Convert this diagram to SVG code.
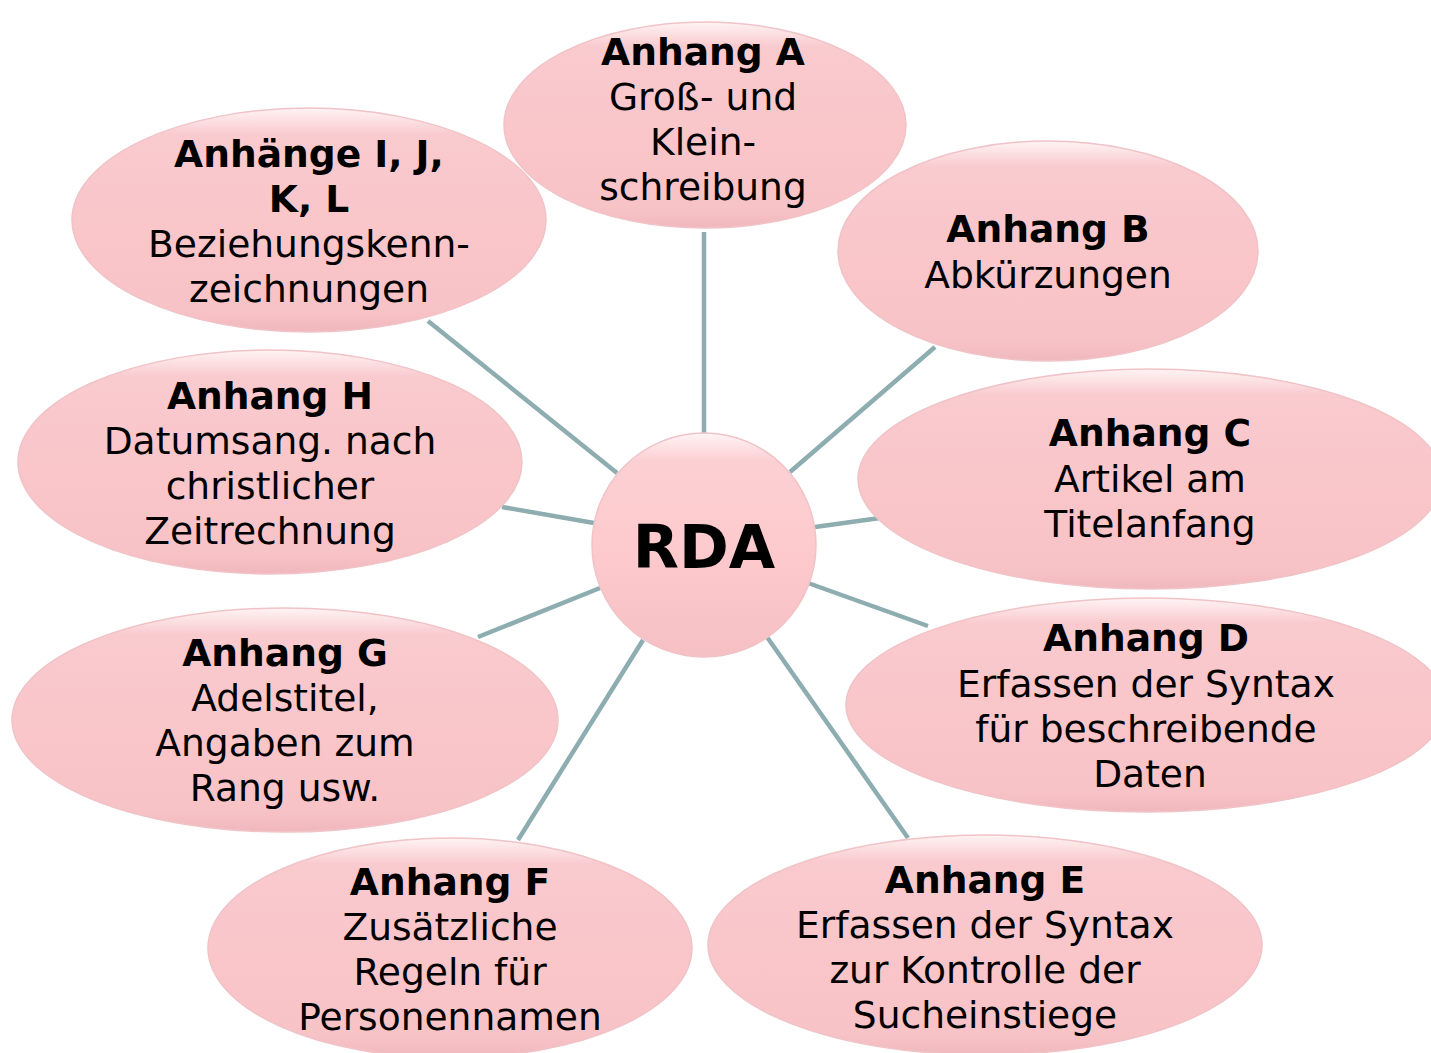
<svg xmlns="http://www.w3.org/2000/svg" width="1431" height="1053" viewBox="0 0 1431 1053">
<defs>
<linearGradient id="pk" x1="0" y1="0" x2="0" y2="1">
<stop offset="0" stop-color="#fff3f4"/>
<stop offset="0.12" stop-color="#f9cace"/>
<stop offset="0.5" stop-color="#f9c6ca"/>
<stop offset="0.9" stop-color="#f8c3c7"/>
<stop offset="1" stop-color="#f0b8bd"/>
</linearGradient>
<linearGradient id="ck" x1="0" y1="0" x2="0" y2="1">
<stop offset="0" stop-color="#fff4f5"/>
<stop offset="0.12" stop-color="#fcd0d3"/>
<stop offset="0.5" stop-color="#fdcacd"/>
<stop offset="1" stop-color="#f6c0c4"/>
</linearGradient>
</defs>
<style>
.n{fill:url(#pk);stroke:#f0c3c7;stroke-width:1.5}
.c{stroke:#8eadb0;stroke-width:4.5;fill:none;stroke-linecap:butt}
text{font-family:"DejaVu Sans","Verdana",sans-serif;font-size:37.6px;fill:#000;text-anchor:middle}
.b{font-weight:bold}
</style>
<rect width="1431" height="1053" fill="#ffffff"/>
<g id="connectors">
<line class="c" x1="704" y1="232" x2="704" y2="433"/>
<line class="c" x1="935" y1="347" x2="790" y2="472"/>
<line class="c" x1="880" y1="518" x2="815" y2="527"/>
<line class="c" x1="928" y1="626" x2="808" y2="583"/>
<line class="c" x1="908" y1="838" x2="767" y2="637"/>
<line class="c" x1="518" y1="840" x2="643" y2="640"/>
<line class="c" x1="478" y1="637" x2="600" y2="588"/>
<line class="c" x1="502" y1="507" x2="594" y2="523"/>
<line class="c" x1="428" y1="321" x2="617" y2="473"/>
</g>
<g id="nodeA">
<ellipse class="n" cx="705" cy="125" rx="201" ry="103"/>
<text x="703" y="65" class="b">Anhang A</text>
<text x="703" y="110">Groß- und</text>
<text x="703" y="155">Klein-</text>
<text x="703" y="200">schreibung</text>
</g>
<g id="nodeB">
<ellipse class="n" cx="1048" cy="251" rx="210" ry="110"/>
<text x="1048" y="242" class="b">Anhang B</text>
<text x="1048" y="288">Abkürzungen</text>
</g>
<g id="nodeC">
<ellipse class="n" cx="1150" cy="479" rx="292" ry="110"/>
<text x="1150" y="446" class="b">Anhang C</text>
<text x="1150" y="492">Artikel am</text>
<text x="1150" y="537">Titelanfang</text>
</g>
<g id="nodeD">
<ellipse class="n" cx="1146" cy="705" rx="300" ry="107"/>
<text x="1146" y="651" class="b">Anhang D</text>
<text x="1146" y="697">Erfassen der Syntax</text>
<text x="1146" y="742">für beschreibende</text>
<text x="1150" y="787">Daten</text>
</g>
<g id="nodeE">
<ellipse class="n" cx="985" cy="945" rx="277" ry="110"/>
<text x="985" y="893" class="b">Anhang E</text>
<text x="985" y="938">Erfassen der Syntax</text>
<text x="985" y="983">zur Kontrolle der</text>
<text x="985" y="1028">Sucheinstiege</text>
</g>
<g id="nodeF">
<ellipse class="n" cx="450" cy="948" rx="242" ry="110"/>
<text x="450" y="895" class="b">Anhang F</text>
<text x="450" y="940">Zusätzliche</text>
<text x="450" y="985">Regeln für</text>
<text x="450" y="1030">Personennamen</text>
</g>
<g id="nodeG">
<ellipse class="n" cx="285" cy="720" rx="273" ry="112"/>
<text x="285" y="666" class="b">Anhang G</text>
<text x="285" y="711">Adelstitel,</text>
<text x="285" y="756">Angaben zum</text>
<text x="285" y="801">Rang usw.</text>
</g>
<g id="nodeH">
<ellipse class="n" cx="270" cy="462" rx="252" ry="112"/>
<text x="270" y="409" class="b">Anhang H</text>
<text x="270" y="454">Datumsang. nach</text>
<text x="270" y="499">christlicher</text>
<text x="270" y="544">Zeitrechnung</text>
</g>
<g id="nodeIJKL">
<ellipse class="n" cx="309" cy="220" rx="237" ry="112"/>
<text x="309" y="167" class="b">Anhänge I, J,</text>
<text x="309" y="212" class="b">K, L</text>
<text x="309" y="257">Beziehungskenn-</text>
<text x="309" y="302">zeichnungen</text>
</g>
<g id="nodeRDA">
<circle cx="704" cy="545" r="112" fill="url(#ck)" stroke="#f0c3c7" stroke-width="1.5"/>
<text x="704" y="568" class="b" style="font-size:60px">RDA</text>
</g>
</svg>
